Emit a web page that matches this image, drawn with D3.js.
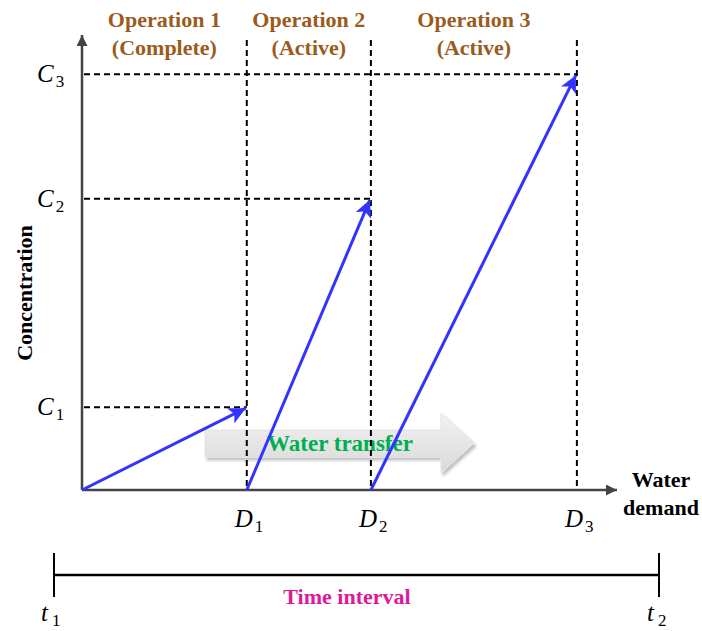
<!DOCTYPE html>
<html><head><meta charset="utf-8">
<script src="https://cdn.jsdelivr.net/npm/d3@7"></script>
<style>html,body{margin:0;padding:0;background:#fff}svg{display:block}</style>
</head><body><svg id="c" width="702" height="631"></svg>
<script>
const operations = ["Operation 1", "Operation 2", "Operation 3"];
const statuses = ["(Complete)", "(Active)", "(Active)"];
const demandLabels = ["D", "D", "D"];
const demandValues = [30.8, 54, 92.5];
const concLabels = ["C", "C", "C"];
const concValues = [18.2, 64, 91.4];
const opStart = [0, 30.8, 54];

const svg = d3.select("#c");
const x = d3.scaleLinear().domain([0, 100]).range([82, 617]);
const y = d3.scaleLinear().domain([0, 100]).range([490, 35]);
const serif = "'Liberation Serif','Times New Roman',serif";
const axisCol = "#444";

const defs = svg.append("defs");
defs.append("marker").attr("id","axArrow").attr("viewBox","0 0 10 10").attr("refX",10).attr("refY",5)
  .attr("markerWidth",11).attr("markerHeight",11).attr("markerUnits","userSpaceOnUse").attr("orient","auto")
  .append("path").attr("d","M0,0 L10,5 L0,10 Z").attr("fill",axisCol);
defs.append("marker").attr("id","blueArrow").attr("viewBox","0 0 10 10").attr("refX",10).attr("refY",5)
  .attr("markerWidth",17).attr("markerHeight",17).attr("markerUnits","userSpaceOnUse").attr("orient","auto")
  .append("path").attr("d","M0,0 L10,5 L0,10 L2.5,5 Z").attr("fill","#3333ff");
const grad = defs.append("linearGradient").attr("id","gr").attr("x1",0).attr("y1",0).attr("x2",0).attr("y2",1);
grad.append("stop").attr("offset","0%").attr("stop-color","#f2f2f2");
grad.append("stop").attr("offset","100%").attr("stop-color","#d9d9d9");
const flt = defs.append("filter").attr("id","sh").attr("x","-10%").attr("y","-20%").attr("width","130%").attr("height","160%");
flt.append("feDropShadow").attr("dx",2).attr("dy",3).attr("stdDeviation",1.5).attr("flood-color","#000").attr("flood-opacity",0.25);

// Water transfer arrow
const wx0 = x(23), wx1 = x(73.3), wh = x(67.1);
const wy0 = 430, wy1 = 457, hy0 = 413, hy1 = 473;
svg.append("path")
  .attr("d", `M${wx0},${wy0} L${wh},${wy0} L${wh},${hy0} L${wx1},${(hy0+hy1)/2} L${wh},${hy1} L${wh},${wy1} L${wx0},${wy1} Z`)
  .attr("fill","url(#gr)").attr("stroke","#e3e3e3").attr("filter","url(#sh)");
svg.append("text").attr("x", 340).attr("y", 451).attr("text-anchor","middle")
  .attr("font-family", serif).attr("font-weight","bold").attr("font-size", 23).attr("fill","#00b050")
  .text("Water transfer");

// dashed guides
const dash = "6,4";
demandValues.forEach(d => {
  svg.append("line").attr("x1", x(d)).attr("x2", x(d)).attr("y1", 40).attr("y2", y(0))
    .attr("stroke","#000").attr("stroke-width",2).attr("stroke-dasharray",dash);
});
concValues.forEach((c,i) => {
  svg.append("line").attr("x1", x(0)+2).attr("x2", x(demandValues[i])).attr("y1", y(c)).attr("y2", y(c))
    .attr("stroke","#000").attr("stroke-width",2).attr("stroke-dasharray",dash);
});

// axes
svg.append("line").attr("x1", x(0)).attr("y1", y(0)).attr("x2", x(100)).attr("y2", y(0))
  .attr("stroke", axisCol).attr("stroke-width",2.5).attr("marker-end","url(#axArrow)");
svg.append("line").attr("x1", x(0)).attr("y1", y(0)).attr("x2", x(0)).attr("y2", y(100))
  .attr("stroke", axisCol).attr("stroke-width",2.5).attr("marker-end","url(#axArrow)");

// blue lines
concValues.forEach((c,i) => {
  svg.append("line").attr("x1", x(opStart[i])).attr("y1", y(0)).attr("x2", x(demandValues[i])-1).attr("y2", y(c)+1)
    .attr("stroke","#3333ff").attr("stroke-width",3).attr("marker-end","url(#blueArrow)");
});

// headers
operations.forEach((op,i) => {
  const cx = (x(opStart[i]) + x(demandValues[i])) / 2;
  const t = svg.append("text").attr("x", cx).attr("text-anchor","middle")
    .attr("font-family", serif).attr("font-weight","bold").attr("font-size", 22).attr("fill","#9c5a1c");
  t.append("tspan").attr("x", cx).attr("y", 27).text(op);
  t.append("tspan").attr("x", cx).attr("y", 55).text(statuses[i]);
});

// C labels
concLabels.forEach((l,i) => {
  const t = svg.append("text").attr("x", 37).attr("y", y(concValues[i]) + 8)
    .attr("font-family", serif).attr("font-size", 25).attr("fill","#000");
  t.append("tspan").attr("font-style","italic").text(l);
  t.append("tspan").attr("font-size", 17).attr("dx", 2).attr("dy", 5).text(i+1);
});
// D labels
demandLabels.forEach((l,i) => {
  const t = svg.append("text").attr("x", x(demandValues[i]) - 12).attr("y", 527)
    .attr("font-family", serif).attr("font-size", 25).attr("fill","#000");
  t.append("tspan").attr("font-style","italic").text(l);
  t.append("tspan").attr("font-size", 17).attr("dx", 2).attr("dy", 5).text(i+1);
});

// axis titles
svg.append("text").attr("transform","translate(32,293) rotate(-90)").attr("text-anchor","middle")
  .attr("font-family", serif).attr("font-weight","bold").attr("font-size", 22).attr("fill","#000")
  .text("Concentration");
const wd = svg.append("text").attr("text-anchor","middle").attr("font-family", serif)
  .attr("font-weight","bold").attr("font-size", 22).attr("fill","#000");
wd.append("tspan").attr("x", 661).attr("y", 487).text("Water");
wd.append("tspan").attr("x", 661).attr("y", 515).text("demand");

// time interval
const tx0 = 54, tx1 = 659, ty = 575;
svg.append("line").attr("x1", tx0).attr("x2", tx1).attr("y1", ty).attr("y2", ty).attr("stroke","#000").attr("stroke-width",2.5);
[tx0, tx1].forEach(v => svg.append("line").attr("x1", v).attr("x2", v).attr("y1", 553).attr("y2", 597).attr("stroke","#000").attr("stroke-width",2));
svg.append("text").attr("x", 347).attr("y", 604).attr("text-anchor","middle")
  .attr("font-family", serif).attr("font-weight","bold").attr("font-size", 22).attr("fill","#e0189a")
  .text("Time interval");
[["t","1",41],["t","2",647]].forEach(([a,b,px]) => {
  const t = svg.append("text").attr("x", px).attr("y", 621).attr("font-family", serif).attr("font-size", 25).attr("fill","#000");
  t.append("tspan").attr("font-style","italic").text(a);
  t.append("tspan").attr("font-size", 17).attr("dx", 4).attr("dy", 5).text(b);
});
</script></body></html>
